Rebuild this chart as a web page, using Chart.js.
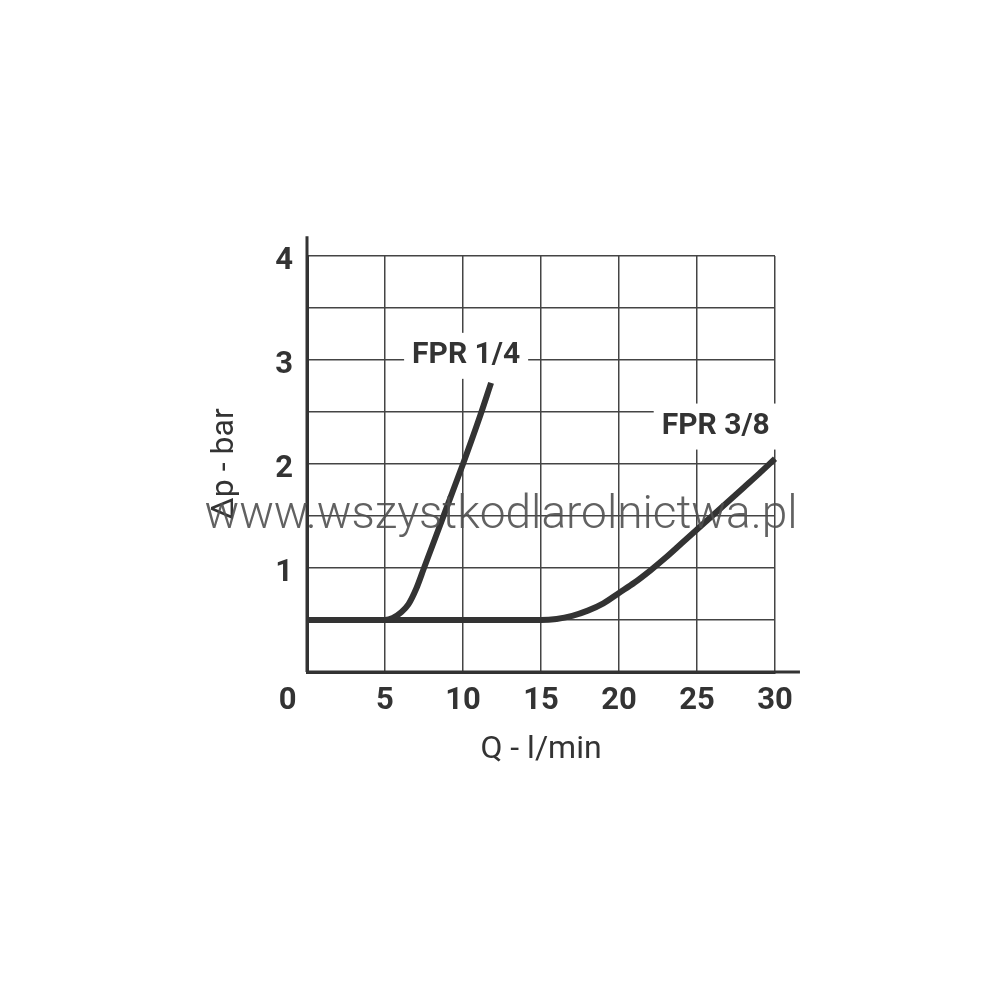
<!DOCTYPE html>
<html>
<head>
<meta charset="utf-8">
<script src="https://cdn.jsdelivr.net/npm/chart.js@4"></script>
<style>
  html, body { margin: 0; padding: 0; background: #fff; }
  #wrap { width: 1000px; height: 1000px; }
</style>
</head>
<body>
<div id="wrap"><canvas id="chart_pressure_drop" width="1000" height="1000"></canvas></div>
<script>
// flow Q (l/min) and pressure drop (bar)
const fpr14_q  = [0, 5, 5.5, 6, 6.5, 7, 7.5, 8, 9, 10, 11, 11.8];
const fpr14_dp = [0.5, 0.5, 0.52, 0.57, 0.65, 0.8, 1.0, 1.2, 1.6, 2.0, 2.42, 2.78];
const fpr38_q  = [0, 15, 16, 17, 18, 19, 20, 21, 22, 23, 24, 25, 26, 27, 28, 29, 30];
const fpr38_dp = [0.5, 0.5, 0.51, 0.54, 0.59, 0.66, 0.76, 0.86, 0.975, 1.1, 1.235, 1.37, 1.505, 1.64, 1.775, 1.91, 2.05];

const x_ticks = [0, 5, 10, 15, 20, 25, 30];
const y_ticks = [1, 2, 3, 4];

const series_names = ["FPR 1/4", "FPR 3/8"];
const label_at = [[10.2, 3.04], [26.2, 2.36]];

const watermark = "www.wszystkodlarolnictwa.pl";

const ink = "#333333";
const tick_font = { family: "Roboto, sans-serif", size: 31, weight: "bold" };

let chart_plugins =
{
    id: "extras",
    beforeDatasetsDraw(chart) {
        // white boxes + curve names, on top of the grid
        const ctx = chart.ctx;
        const xs = chart.scales.x, ys = chart.scales.y;
        ctx.save();
        ctx.font = "bold 30px Roboto, sans-serif";
        ctx.textAlign = "center";
        ctx.textBaseline = "middle";
        series_names.forEach((name, i) => {
            const px = xs.getPixelForValue(label_at[i][0]);
            const py = ys.getPixelForValue(label_at[i][1]);
            const w = ctx.measureText(name).width;
            ctx.fillStyle = "#fff";
            ctx.fillRect(px - w / 2 - 8, py - 23, w + 16, 46);
            ctx.fillStyle = ink;
            ctx.fillText(name, px, py);
        });
        ctx.restore();
    },
    afterDraw(chart) {
        const ctx = chart.ctx;
        const xs = chart.scales.x, ys = chart.scales.y;
        ctx.save();
        // axis lines run a bit past the grid
        ctx.strokeStyle = ink;
        ctx.lineWidth = 3;
        ctx.beginPath();
        ctx.moveTo(xs.getPixelForValue(0), ys.getPixelForValue(0));
        ctx.lineTo(xs.getPixelForValue(0), ys.getPixelForValue(4.19));
        ctx.moveTo(xs.getPixelForValue(0), ys.getPixelForValue(0));
        ctx.lineTo(xs.getPixelForValue(31.6), ys.getPixelForValue(0));
        ctx.stroke();

        // watermark
        ctx.font = "300 40px Roboto, sans-serif";
        const size = 40 * 593 / ctx.measureText(watermark).width;
        ctx.font = "300 " + size.toFixed(1) + "px Roboto, sans-serif";
        ctx.fillStyle = "rgba(80, 80, 80, 0.9)";
        ctx.textAlign = "center";
        ctx.textBaseline = "alphabetic";
        ctx.fillText(watermark, 501, 528);
        ctx.restore();
    }
};

new Chart(document.getElementById("chart_pressure_drop"), {
    type: "line",
    data: {
        datasets: [
            {
                label: series_names[0],
                data: fpr14_q.map((q, i) => ({ x: q, y: fpr14_dp[i] })),
                borderColor: ink,
                borderWidth: 6,
                borderCapStyle: "butt",
                pointRadius: 0,
                cubicInterpolationMode: "monotone",
                clip: false
            },
            {
                label: series_names[1],
                data: fpr38_q.map((q, i) => ({ x: q, y: fpr38_dp[i] })),
                borderColor: ink,
                borderWidth: 6,
                borderCapStyle: "butt",
                pointRadius: 0,
                cubicInterpolationMode: "monotone",
                clip: false
            }
        ]
    },
    options: {
        responsive: false,
        animation: false,
        layout: { padding: { left: 206, right: 225, top: 256, bottom: 231 } },
        plugins: { legend: { display: false }, tooltip: { enabled: false } },
        scales: {
            x: {
                type: "linear",
                min: 0,
                max: 30,
                afterFit(scale) { scale.height = 97; },
                afterBuildTicks(scale) { scale.ticks = x_ticks.map(v => ({ value: v })); },
                grid: { color: "#444", lineWidth: 1.5, drawTicks: false },
                border: { color: ink, width: 3 },
                ticks: {
                    color: ink,
                    font: tick_font,
                    padding: 11,
                    maxRotation: 0,
                    callback: v => v === 0 ? "0     " : String(v)
                },
                title: {
                    display: true,
                    text: "Q - l/min",
                    color: ink,
                    font: { family: "Roboto, sans-serif", size: 32 },
                    padding: 0
                }
            },
            y: {
                type: "linear",
                min: 0,
                max: 4,
                afterFit(scale) { scale.width = 101; },
                ticks: {
                    stepSize: 0.5,
                    color: ink,
                    font: tick_font,
                    padding: 14,
                    labelOffset: 5,
                    callback: v => y_ticks.includes(v) ? String(v) : ""
                },
                grid: { color: "#444", lineWidth: 1.5, drawTicks: false },
                border: { color: ink, width: 3 },
                title: {
                    display: true,
                    text: "Δp - bar",
                    color: ink,
                    font: { family: "Roboto, sans-serif", size: 32 },
                    padding: 0
                }
            }
        }
    },
    plugins: [chart_plugins]
});
</script>
</body>
</html>
